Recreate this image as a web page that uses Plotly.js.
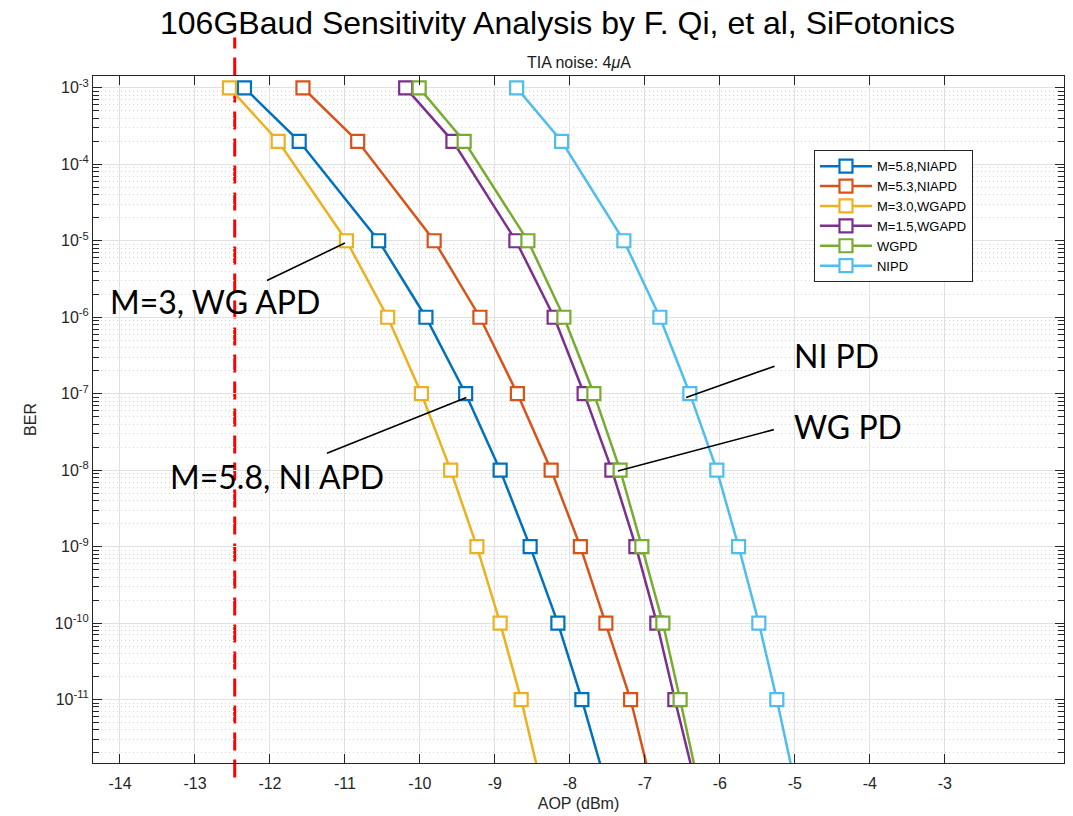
<!DOCTYPE html>
<html>
<head>
<meta charset="utf-8">
<script src="https://cdn.plot.ly/plotly-3.0.1.min.js"></script>
<style>html,body{margin:0;padding:0;background:#fff;} #chart{width:1073px;height:816px;}</style>
</head>
<body>
<div id="chart"></div>
<script>
// BER levels (last level lies below the visible range; lines run off the bottom)
const ber = [1e-3, 2e-4, 1e-5, 1e-6, 1e-7, 1e-8, 1e-9, 1e-10, 1e-11, 1e-12];

// AOP (dBm) per series
const aopM58NIAPD = [-12.34, -11.61, -10.55, -9.92, -9.39, -8.93, -8.53, -8.16, -7.84, -7.55];
const aopM53NIAPD = [-11.56, -10.83, -9.81, -9.20, -8.70, -8.25, -7.86, -7.52, -7.19, -6.94];
const aopM30WGAPD = [-12.54, -11.89, -10.98, -10.43, -9.98, -9.59, -9.24, -8.93, -8.65, -8.41];
const aopM15WGAPD = [-10.19, -9.56, -8.72, -8.21, -7.81, -7.44, -7.12, -6.84, -6.60, -6.35];
const aopWGPD     = [-10.01, -9.41, -8.56, -8.08, -7.68, -7.33, -7.04, -6.76, -6.53, -6.31];
const aopNIPD     = [-8.71, -8.11, -7.28, -6.80, -6.40, -6.04, -5.75, -5.48, -5.24, -5.02];

const seriesNames = ['M=5.8,NIAPD', 'M=5.3,NIAPD', 'M=3.0,WGAPD', 'M=1.5,WGAPD', 'WGPD', 'NIPD'];
const seriesData = [aopM58NIAPD, aopM53NIAPD, aopM30WGAPD, aopM15WGAPD, aopWGPD, aopNIPD];
const seriesColors = ['#0072BD', '#D95319', '#EDB120', '#7E2F8E', '#77AC30', '#4DBEEE'];

// tick labels
const xTickVals = [-14, -13, -12, -11, -10, -9, -8, -7, -6, -5, -4, -3];
const xTickText = ['-14', '-13', '-12', '-11', '-10', '-9', '-8', '-7', '-6', '-5', '-4', '-3'];
const yTickVals = [1e-11, 1e-10, 1e-9, 1e-8, 1e-7, 1e-6, 1e-5, 1e-4, 1e-3];
const yTickText = ['10<sup>-11</sup>', '10<sup>-10</sup>', '10<sup>-9</sup>', '10<sup>-8</sup>', '10<sup>-7</sup>',
                   '10<sup>-6</sup>', '10<sup>-5</sup>', '10<sup>-4</sup>', '10<sup>-3</sup>'];

// sensitivity limit (red dashed line)
const limitAOP = -12.47;

// callout labels: text, label position (x, log10 BER), pointer line start / end (x, log10 BER)
const calloutText = ['M=3, WG APD', 'M=5.8, NI APD', 'NI PD', 'WG PD'];
const calloutPos = [[-12.73, -5.80], [-11.90, -8.08], [-4.44, -6.50], [-4.29, -7.43]];
const calloutFrom = [[-12.04, -5.52], [-11.24, -7.78], [-5.27, -6.64], [-5.28, -7.47]];
const calloutTo = [[-11.00, -5.03], [-9.38, -7.05], [-6.45, -7.05], [-7.36, -8.01]];

const minorVals = [];
for (let e = -12; e <= -3; e++) for (let m = 2; m <= 9; m++) minorVals.push(m * Math.pow(10, e));

const traces = seriesNames.map((n, i) => ({
  type: 'scatter', mode: 'lines+markers', name: n,
  x: seriesData[i], y: ber,
  line: {color: seriesColors[i], width: 2.5},
  marker: {symbol: 'square', size: 13, color: '#ffffff', line: {color: seriesColors[i], width: 2.2}}
}));

const axisColor = '#262626';
const shapes = [{
  type: 'line', xref: 'x', yref: 'paper', x0: limitAOP, x1: limitAOP, y0: -0.021, y1: 1.056,
  line: {color: '#ff0000', width: 3, dash: '18px,9px'}, layer: 'below'
}];
calloutFrom.forEach((p, i) => shapes.push({
  type: 'line', xref: 'x', yref: 'y',
  x0: p[0], y0: Math.pow(10, p[1]), x1: calloutTo[i][0], y1: Math.pow(10, calloutTo[i][1]),
  line: {color: '#000000', width: 1.6}, layer: 'above'
}));

const annotations = calloutText.map((t, i) => ({
  text: t, xref: 'x', yref: 'y', x: calloutPos[i][0], y: calloutPos[i][1],
  showarrow: false, xanchor: 'center', yanchor: 'middle',
  font: {family: 'Lato, sans-serif', size: 32, color: '#000000'}
}));
annotations.push({
  text: 'TIA noise: 4<i>μ</i>A', xref: 'paper', yref: 'paper', x: 0.5, y: 1.0, yanchor: 'bottom',
  yshift: 3, showarrow: false, font: {family: 'Liberation Sans, Arial, sans-serif', size: 16, color: '#1a1a1a'}
});

const layout = {
  width: 1073, height: 816,
  margin: {l: 93, r: 9, t: 76, b: 53},
  paper_bgcolor: '#ffffff', plot_bgcolor: '#ffffff',
  font: {family: 'Liberation Sans, Arial, sans-serif', color: axisColor},
  title: {
    text: '106GBaud Sensitivity Analysis by F. Qi, et al, SiFotonics',
    xref: 'container', yref: 'container', x: 0.5196, xanchor: 'center', y: 0.972, yanchor: 'middle',
    font: {family: 'Liberation Sans, Arial, sans-serif', size: 32, color: '#000000'}
  },
  showlegend: true,
  legend: {
    x: 0.7425, y: 0.892, xanchor: 'left', yanchor: 'top',
    bgcolor: '#ffffff', bordercolor: axisColor, borderwidth: 1,
    font: {family: 'Liberation Sans, Arial, sans-serif', size: 13, color: '#000000'},
    itemwidth: 52, tracegroupgap: 0
  },
  xaxis: {
    range: [-14.36, -1.41], tickmode: 'array', tickvals: xTickVals, ticktext: xTickText,
    showline: true, linecolor: axisColor, linewidth: 1, mirror: 'allticks',
    ticks: 'inside', ticklen: 9, tickcolor: axisColor, ticklabelstandoff: 6,
    showgrid: true, gridcolor: '#e1e1e1', gridwidth: 1, zeroline: false,
    tickfont: {size: 16, color: axisColor},
    title: {text: 'AOP (dBm)', font: {size: 16, color: axisColor}, standoff: 6}
  },
  yaxis: {
    type: 'log', range: [-11.83, -2.845], tickmode: 'array', tickvals: yTickVals, ticktext: yTickText,
    showline: true, linecolor: axisColor, linewidth: 1, mirror: 'allticks',
    ticks: 'inside', ticklen: 9, tickcolor: axisColor,
    showgrid: true, gridcolor: '#e1e1e1', gridwidth: 1, zeroline: false,
    tickfont: {size: 16, color: axisColor},
    minor: {tickmode: 'array', tickvals: minorVals, ticks: 'inside', ticklen: 6, tickcolor: axisColor,
            showgrid: true, gridcolor: '#d4d4d4', griddash: '1px,3px', gridwidth: 1},
    title: {text: 'BER', font: {size: 16, color: axisColor}, standoff: 14}
  },
  shapes: shapes,
  annotations: annotations
};

Plotly.newPlot('chart', traces, layout, {displayModeBar: false, staticPlot: true});
</script>
</body>
</html>
